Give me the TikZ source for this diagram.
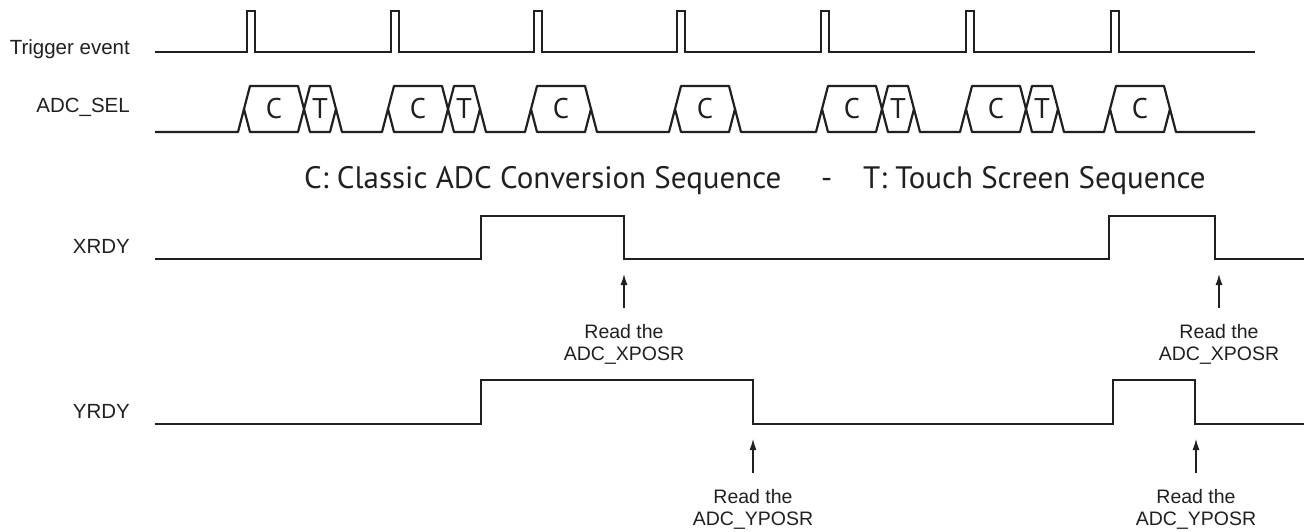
\documentclass[tikz,border=0pt]{standalone}
\usepackage{fontspec}
\setmainfont{Liberation Sans}
\newfontfamily\legendfont{PT Sans}
\usepackage{xcolor}
\usetikzlibrary{arrows.meta, positioning}
\definecolor{trait}{RGB}{35,31,32}

\begin{document}
\begin{tikzpicture}[x=1pt, y=-1pt,
        signal/.style={draw=trait, line width=2.4pt, line join=miter},
        bus/.style={draw=trait, line width=2.2pt, line join=round},
        nomsig/.style={font=\fontsize{20.5}{24}\selectfont, text=trait, anchor=base east, inner sep=0pt},
        note/.style={font=\fontsize{19.5}{22}\selectfont, text=trait, align=center, inner sep=0pt},
        lettre/.style={font=\legendfont\fontsize{28.5}{30}\selectfont, text=trait, inner sep=0pt},
        legende/.style={font=\legendfont\fontsize{31}{36}\selectfont, text=trait, anchor=base west, inner sep=0pt},
        lecture/.style={-{Latex[length=11pt,width=7pt]}, draw=trait, line width=1.2pt,
                        shorten <=16pt, shorten >=15pt}]

    \useasboundingbox (0,0) rectangle (1306,531);

    % Noms des signaux
    \node[nomsig] (trig) at (130,54) {Trigger event};
    \node[nomsig] (sel) at (130,112) {ADC\_SEL};
    \node[nomsig] (xrdy) at (130,253) {XRDY};
    \node[nomsig] (yrdy) at (130,418) {YRDY};

    % Impulsions de declenchement
    \draw[signal, line width=2pt] (155,52)
        foreach \p in {247,391,534,677,821,966,1111} { -- (\p,52) -- (\p,11) -- (\p+8,11) -- (\p+8,52) }
        -- (1255,52);

    % Sequences sur ADC_SEL
    \foreach \a/\b/\t in {244/304/C, 304/336/T, 388/448/C, 448/480/T, 531/591/C, 675/735/C,
                          822/882/C, 882/914/T, 966/1026/C, 1026/1058/T, 1110/1170/C} {
        \draw[bus] (\a,109) -- (\a+6,86) -- (\b-6,86) -- (\b,109) -- (\b-6,132) -- (\a+6,132) -- cycle;
        \node[lettre] (seq\a) at ({(\a+\b)/2},109) {\t};
    }
    \draw[bus] (155,132) -- (238,132) -- (244,109);
    \foreach \e/\s in {336/388, 480/531, 591/675, 735/822, 914/966, 1058/1110}
        \draw[bus] (\e,109) -- (\e+6,132) -- (\s-6,132) -- (\s,109);
    \draw[bus] (1170,109) -- (1176,132) -- (1255,132);

    % Legende
    \node[legende] (legc) at (304,188) {C: Classic ADC Conversion Sequence};
    \node[legende] (tiret) at (821,188) {-};
    \node[legende] (legt) at (863,188) {T: Touch Screen Sequence};

    % XRDY et YRDY
    \draw[signal] (155,259) -- (481,259) -- (481,216) -- (624,216) -- (624,259)
        -- (1109,259) -- (1109,216) -- (1215,216) -- (1215,259) -- (1304,259);
    \draw[signal] (155,424) -- (481,424) -- (481,380) -- (753,380) -- (753,424)
        -- (1113,424) -- (1113,380) -- (1195,380) -- (1195,424) -- (1304,424);

    % Lectures des registres
    \coordinate (lx1) at (624,259);
    \coordinate (lx2) at (1219,259);
    \coordinate (ly1) at (753,424);
    \coordinate (ly2) at (1196,424);

    \node[note, below=65pt of lx1] (rx1) {Read the\\ADC\_XPOSR};
    \node[note, below=65pt of lx2] (rx2) {Read the\\ADC\_XPOSR};
    \node[note, below=65pt of ly1] (ry1) {Read the\\ADC\_YPOSR};
    \node[note, below=65pt of ly2] (ry2) {Read the\\ADC\_YPOSR};

    \draw[lecture] (rx1) -- (lx1);
    \draw[lecture] (rx2) -- (lx2);
    \draw[lecture] (ry1) -- (ly1);
    \draw[lecture] (ry2) -- (ly2);

\end{tikzpicture}
\end{document}
